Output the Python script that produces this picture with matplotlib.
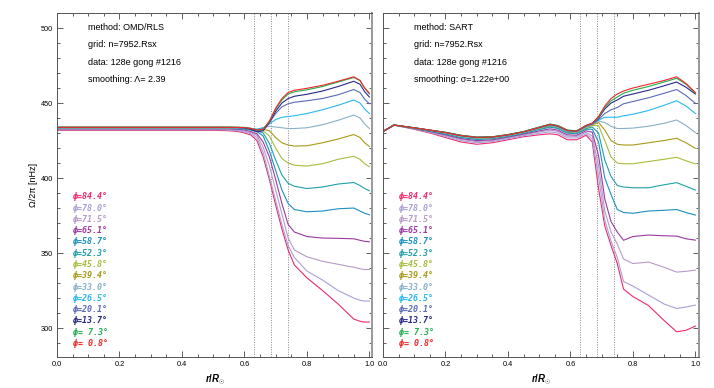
import matplotlib
matplotlib.use("Agg")
import matplotlib.pyplot as plt
from matplotlib.ticker import MultipleLocator

plt.rcParams['font.family'] = ['Liberation Sans', 'DejaVu Sans']
plt.rcParams['mathtext.fontset'] = 'custom'
plt.rcParams['mathtext.it'] = 'Liberation Sans:italic:bold'
plt.rcParams['mathtext.rm'] = 'Liberation Sans:bold'

# ---------------- data ----------------
latitudes = ["84.4", "78.0", "71.5", "65.1", "58.7", "52.3", "45.8",
             "39.4", "33.0", "26.5", "20.1", "13.7", " 7.3", " 0.8"]
colors = ["#ee2a6e", "#a8a0d8", "#b89ac8", "#9a3aa0", "#1a90c0", "#20a0a8", "#a8bc3c",
          "#a89a18", "#88b0c8", "#28b8f0", "#5a6ab8", "#28288c", "#20b050", "#f02828"]

# left panel: OMD/RLS
r_left = [0.0, 0.3, 0.5, 0.55, 0.58, 0.6, 0.62, 0.64, 0.66, 0.68, 0.7, 0.72, 0.74,
          0.76, 0.8, 0.85, 0.9, 0.95, 0.97, 0.985, 1.0]
omd_84_4 = [431.8, 431.8, 431.8, 431.5, 431.0, 430.0, 428.8, 425, 414, 399, 382, 366, 352,
            342, 333.5, 325, 316, 306, 304.5, 304, 304]
omd_78_0 = [432.2, 432.2, 432.2, 432.0, 431.5, 430.7, 429.5, 427, 417, 401, 385, 369, 355,
            347, 338, 332, 325, 320, 318.5, 318, 318]
omd_71_5 = [432.5, 432.5, 432.5, 432.5, 432.0, 431.3, 430.3, 428.5, 420.5, 408, 392, 376, 360,
            352, 347.5, 344.5, 342.5, 340.5, 339.5, 339, 339]
omd_65_1 = [432.8, 432.8, 432.8, 432.8, 432.5, 432.0, 431.0, 429.5, 424, 414, 399, 383, 369,
            364, 361, 360, 359.8, 359.5, 358.5, 357.8, 357.5]
omd_58_7 = [433.0, 433.0, 433.0, 433.0, 432.8, 432.6, 432.0, 431, 428, 418, 405, 392, 383,
            379, 377.5, 378, 379.5, 380, 378, 376.5, 375.5]
omd_52_3 = [433.1, 433.1, 433.1, 433.1, 433.0, 432.9, 432.4, 431.5, 430, 423, 412, 402, 396.5,
            394.5, 393, 394, 396, 397, 395, 393, 391.5]
omd_45_8 = [433.2, 433.2, 433.2, 433.2, 433.1, 433.0, 432.8, 432.0, 431.5, 428, 420, 413, 410,
            408.5, 408, 409.5, 412.5, 414.5, 412.5, 409.5, 407.5]
omd_39_4 = [433.3, 433.3, 433.3, 433.3, 433.2, 433.1, 432.9, 432.3, 432.5, 431.5, 427, 423.5, 422,
            421.3, 421.5, 423.5, 426, 429, 427, 423.5, 421]
omd_33_0 = [433.4, 433.4, 433.4, 433.4, 433.3, 433.2, 433.0, 432.5, 433.5, 434.5, 434, 433.5, 433,
            433, 433.5, 435.5, 438.5, 442, 440, 436, 433]
omd_26_5 = [433.5, 433.5, 433.5, 433.5, 433.4, 433.3, 433.0, 432.5, 433.5, 436, 439, 440.5, 441,
            441.5, 443, 445.5, 448.5, 452, 450, 446, 443]
omd_20_1 = [433.6, 433.6, 433.6, 433.6, 433.5, 433.3, 432.8, 431.5, 432.5, 437, 443, 447.5, 449.5,
            450.5, 451.5, 453, 455.5, 459, 457, 452.5, 449.5]
omd_13_7 = [433.8, 433.8, 433.8, 433.8, 433.7, 433.5, 432.5, 430.8, 431.5, 437, 444.5, 450, 453,
            454.5, 455.8, 458, 461, 464.5, 462.5, 457.5, 454]
omd_7_3 = [434.0, 434.0, 434.0, 434.0, 433.9, 433.8, 433.2, 432.0, 432.5, 437.5, 446, 452, 456,
           457.5, 458.8, 461, 464, 467, 465, 460, 456]
omd_0_8 = [433.8, 433.8, 433.8, 433.8, 433.7, 433.6, 433.0, 432.0, 432.5, 438, 446.5, 453, 457,
           458.5, 459.8, 461.8, 464.5, 467.5, 465, 460, 456.5]

# right panel: SART
r_right = [0.0, 0.035, 0.1, 0.15, 0.2, 0.25, 0.3, 0.35, 0.4, 0.45, 0.5, 0.535, 0.56, 0.59, 0.62,
           0.65, 0.67, 0.69, 0.71, 0.73, 0.75, 0.77, 0.8, 0.85, 0.9, 0.94, 0.97, 1.0]
sart_84_4 = [431, 435.3, 432.5, 430.0, 427.0, 424.0, 422.5, 423.5, 425.5, 427.5, 428.8, 429.5, 428.8, 425.5, 425.5,
             428.5, 424, 393, 368, 355, 343, 326, 321, 315, 305, 297.5, 298.5, 301.3]
sart_78_0 = [431, 435.3, 432.7, 430.4, 427.7, 424.9, 423.5, 424.3, 426.2, 428.2, 429.8, 430.8, 430.0, 426.8, 426.7,
             429.5, 426, 401, 372, 358, 347, 331, 328, 322, 316, 313, 314, 315.3]
sart_71_5 = [431, 435.3, 432.9, 430.7, 428.3, 425.7, 424.3, 425.0, 426.8, 428.8, 430.7, 431.9, 431.1, 427.9, 427.7,
             430.5, 428, 408, 378, 364, 356, 346, 343, 344, 340.5, 337.3, 337.8, 338.6]
sart_65_1 = [431, 435.3, 433.0, 431.0, 428.8, 426.3, 424.9, 425.5, 427.3, 429.3, 431.4, 432.8, 431.9, 428.8, 428.5,
             431.5, 430.5, 415, 386, 371, 364, 358.5, 361, 362, 361.5, 361.3, 359.5, 358.6]
sart_58_7 = [431, 435.3, 433.2, 431.3, 429.3, 427.0, 425.7, 426.2, 427.8, 429.8, 432.3, 433.9, 433.0, 429.9, 429.5,
             432.5, 432.5, 424, 400, 389, 379, 377, 376.5, 378, 378.5, 379, 377, 375.3]
sart_52_3 = [431, 435.3, 433.3, 431.5, 429.6, 427.4, 426.1, 426.5, 428.1, 430.1, 432.7, 434.4, 433.5, 430.4, 430.0,
             433, 434, 430, 412, 401, 395, 394, 393.5, 393.5, 395.5, 396.9, 394.5, 392]
sart_45_8 = [431, 435.3, 433.3, 431.7, 429.9, 427.7, 426.5, 426.8, 428.4, 430.4, 433.1, 434.9, 433.9, 430.9, 430.5,
             433.5, 435, 435, 425, 414, 410, 409.5, 409.5, 411, 412.5, 413.8, 411.5, 409.4]
sart_39_4 = [431, 435.3, 433.4, 431.8, 430.1, 428.0, 426.7, 427.0, 428.6, 430.6, 433.4, 435.2, 434.3, 431.2, 430.8,
             434, 435.5, 437, 432, 425, 422.5, 422, 422, 423.5, 425, 426.5, 423.5, 419.8]
sart_33_0 = [431, 435.3, 433.4, 431.7, 430.0, 427.9, 426.7, 427.0, 428.5, 430.5, 433.3, 435.2, 434.2, 431.2, 430.7,
             434, 436, 438, 437, 434.5, 433, 433, 433.3, 434.5, 436.5, 438.7, 435, 430.3]
sart_26_5 = [431, 435.3, 433.4, 431.8, 430.2, 428.1, 426.8, 427.1, 428.7, 430.7, 433.5, 435.4, 434.4, 431.4, 430.9,
             434.5, 436, 438.5, 440.5, 440.5, 440.5, 441.5, 442.5, 445, 448.5, 451.5, 448, 443]
sart_20_1 = [431, 435.3, 433.4, 431.9, 430.3, 428.2, 427.0, 427.3, 428.8, 430.8, 433.7, 435.6, 434.6, 431.6, 431.1,
             434.5, 436, 439, 443, 445.5, 447, 449.5, 451, 453.5, 456.5, 459, 455, 449.8]
sart_13_7 = [431, 435.3, 433.5, 431.9, 430.4, 428.4, 427.2, 427.4, 428.9, 430.9, 433.8, 435.8, 434.8, 431.8, 431.3,
             435, 436.5, 440, 446, 450, 452, 454.5, 456, 458.5, 461.5, 464, 460.5, 456]
sart_7_3 = [431, 435.3, 433.5, 432.0, 430.5, 428.5, 427.3, 427.5, 429.0, 431.0, 434.0, 436.0, 435.0, 432.0, 431.5,
            435, 436.5, 440.5, 447, 451.5, 454, 456.5, 458.5, 461, 464, 466.5, 462.5, 456.5]
sart_0_8 = [431, 435.3, 433.5, 431.9, 430.3, 428.3, 427.1, 427.3, 428.8, 430.8, 433.7, 435.7, 434.7, 431.7, 431.2,
            435, 436.5, 441, 448, 453, 456, 458, 460, 462.5, 465, 467.5, 463, 457]

omd_curves = [omd_84_4, omd_78_0, omd_71_5, omd_65_1, omd_58_7, omd_52_3, omd_45_8,
              omd_39_4, omd_33_0, omd_26_5, omd_20_1, omd_13_7, omd_7_3, omd_0_8]
sart_curves = [sart_84_4, sart_78_0, sart_71_5, sart_65_1, sart_58_7, sart_52_3, sart_45_8,
               sart_39_4, sart_33_0, sart_26_5, sart_20_1, sart_13_7, sart_7_3, sart_0_8]

dotted_r = [0.63, 0.686, 0.74]

left_info = ["method: OMD/RLS", "grid: n=7952.Rsx", "data: 128e gong #1216",
             "smoothing: \u039b= 2.39"]
right_info = ["method: SART", "grid: n=7952.Rsx", "data: 128e gong #1216",
              "smoothing: \u03c3=1.22e+00"]

# ---------------- figure ----------------
W, H = 714, 388
fig = plt.figure(figsize=(W / 100, H / 100), dpi=100)
ax_bottom = 1 - 357 / H
ax_height = 344 / H
axL = fig.add_axes([57 / W, ax_bottom, 315.5 / W, ax_height])
axR = fig.add_axes([383 / W, ax_bottom, 315.5 / W, ax_height])

info_y = [500.2, 488.7, 477.1, 465.5]

for ax, r, curves, info, showy in [(axL, r_left, omd_curves, left_info, True),
                                    (axR, r_right, sart_curves, right_info, False)]:
    ax.set_xlim(0, 1.01)
    ax.set_ylim(280.7, 510)
    for rv in dotted_r:
        ax.axvline(rv, color="#888888", lw=0.7, ls=(0, (1, 1.5)), zorder=1)
    for vals, c in zip(curves, colors):
        ax.plot(r, vals, color=c, lw=0.8, zorder=2)
    for i, (lat, c) in enumerate(zip(latitudes, colors)):
        ax.text(0.05, 387.5 - 7.52 * i, "\u03d5=" + lat + "\u00b0", color=c,
                family="DejaVu Sans Mono", weight="bold", style="italic",
                fontsize=6.0, va="center", ha="left")
    for t, yv in zip(info, info_y):
        ax.text(0.1, yv, t, fontsize=6.5, va="center", ha="left", color="black")
    ax.xaxis.set_major_locator(MultipleLocator(0.2))
    ax.xaxis.set_minor_locator(MultipleLocator(0.05))
    ax.yaxis.set_major_locator(MultipleLocator(50))
    ax.yaxis.set_minor_locator(MultipleLocator(10))
    ax.tick_params(which="both", direction="in", top=True, right=True,
                   width=0.6, color="#444444", labelsize=5.3, pad=3)
    ax.tick_params(which="major", length=4.5)
    ax.tick_params(which="minor", length=2)
    ax.set_xticks([0.0, 0.2, 0.4, 0.6, 0.8, 1.0])
    ax.set_xticklabels(["0.0", "0.2", "0.4", "0.6", "0.8", "1.0"])
    if not showy:
        ax.tick_params(labelleft=False)
    for s in ["left", "top", "bottom"]:
        ax.spines[s].set_color("#555555")
        ax.spines[s].set_linewidth(0.7)
    ax.spines["right"].set_color("#999999")
    ax.spines["right"].set_linewidth(1.4)
    ax.set_xlabel(r"$r/R_{\odot}$", fontsize=7, labelpad=3)

axL.set_ylabel("\u03a9/2\u03c0 [nHz]", fontsize=6.5, labelpad=2)

fig.savefig("out.png", dpi=100)
